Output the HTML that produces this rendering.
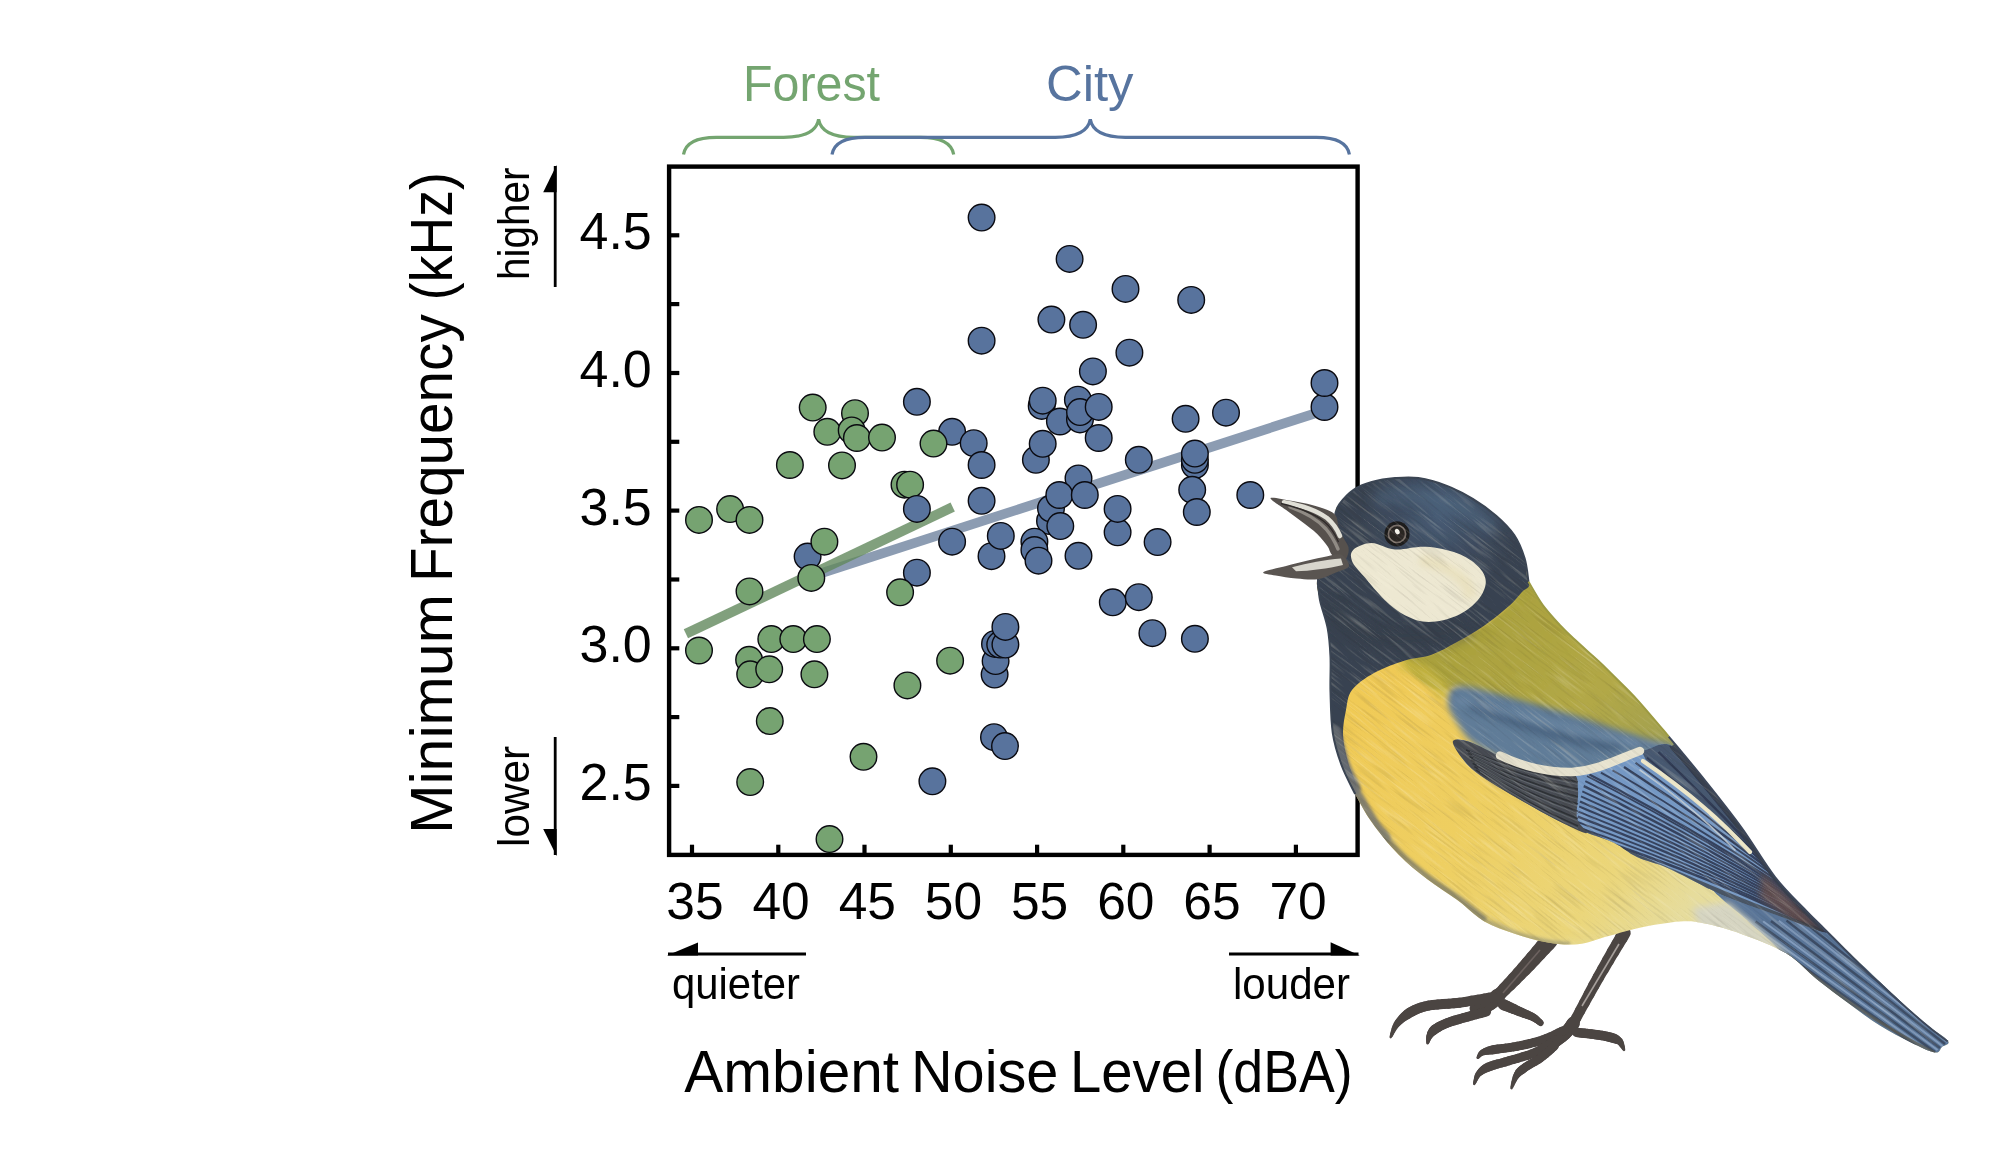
<!DOCTYPE html>
<html><head><meta charset="utf-8"><title>Chart</title>
<style>
html,body{margin:0;padding:0;background:#fff;}
body{width:2000px;height:1158px;overflow:hidden;font-family:"Liberation Sans",sans-serif;}
svg{display:block;}
</style></head>
<body>
<svg width="2000" height="1158" viewBox="0 0 2000 1158">
<rect width="2000" height="1158" fill="#fff"/>
<g id="lines">
<line x1="816" y1="574.9" x2="1323" y2="410.8" stroke="#8c9cb2" stroke-width="9.7"/>
<line x1="685.9" y1="633.8" x2="952.7" y2="507.1" stroke="#62885d" stroke-opacity="0.8" stroke-width="10"/>
</g>
<g id="dots" stroke="#0a0a10" stroke-width="1.4">
<circle cx="981.6" cy="217.6" r="13.3" fill="#58739d"/>
<circle cx="1069.6" cy="258.9" r="13.3" fill="#58739d"/>
<circle cx="1125.5" cy="288.9" r="13.3" fill="#58739d"/>
<circle cx="1191.2" cy="299.9" r="13.3" fill="#58739d"/>
<circle cx="1051.4" cy="319.6" r="13.3" fill="#58739d"/>
<circle cx="1083.1" cy="324.8" r="13.3" fill="#58739d"/>
<circle cx="981.6" cy="340.7" r="13.3" fill="#58739d"/>
<circle cx="1129.4" cy="352.7" r="13.3" fill="#58739d"/>
<circle cx="1092.9" cy="371.4" r="13.3" fill="#58739d"/>
<circle cx="1324.5" cy="407.0" r="13.3" fill="#58739d"/>
<circle cx="1324.5" cy="383.0" r="13.3" fill="#58739d"/>
<circle cx="916.9" cy="401.8" r="13.3" fill="#58739d"/>
<circle cx="812.7" cy="407.6" r="13.3" fill="#76a371"/>
<circle cx="855.0" cy="413.2" r="13.3" fill="#76a371"/>
<circle cx="827.3" cy="431.8" r="13.3" fill="#76a371"/>
<circle cx="851.7" cy="430.4" r="13.3" fill="#76a371"/>
<circle cx="856.9" cy="438.0" r="13.3" fill="#76a371"/>
<circle cx="882.0" cy="437.6" r="13.3" fill="#76a371"/>
<circle cx="789.9" cy="465.0" r="13.3" fill="#76a371"/>
<circle cx="842.0" cy="465.4" r="13.3" fill="#76a371"/>
<circle cx="699.0" cy="519.9" r="13.3" fill="#76a371"/>
<circle cx="730.1" cy="509.1" r="13.3" fill="#76a371"/>
<circle cx="749.5" cy="519.9" r="13.3" fill="#76a371"/>
<circle cx="807.6" cy="556.6" r="13.3" fill="#58739d"/>
<circle cx="824.4" cy="541.7" r="13.3" fill="#76a371"/>
<circle cx="811.3" cy="577.9" r="13.3" fill="#76a371"/>
<circle cx="749.5" cy="591.4" r="13.3" fill="#76a371"/>
<circle cx="952.1" cy="431.8" r="13.3" fill="#58739d"/>
<circle cx="933.5" cy="443.6" r="13.3" fill="#76a371"/>
<circle cx="973.7" cy="443.2" r="13.3" fill="#58739d"/>
<circle cx="981.6" cy="465.0" r="13.3" fill="#58739d"/>
<circle cx="904.5" cy="484.7" r="13.3" fill="#76a371"/>
<circle cx="910.1" cy="484.7" r="13.3" fill="#76a371"/>
<circle cx="916.9" cy="508.9" r="13.3" fill="#58739d"/>
<circle cx="981.6" cy="500.8" r="13.3" fill="#58739d"/>
<circle cx="952.1" cy="541.7" r="13.3" fill="#58739d"/>
<circle cx="991.5" cy="556.2" r="13.3" fill="#58739d"/>
<circle cx="1000.8" cy="535.9" r="13.3" fill="#58739d"/>
<circle cx="916.9" cy="572.7" r="13.3" fill="#58739d"/>
<circle cx="900.1" cy="592.3" r="13.3" fill="#76a371"/>
<circle cx="1041.7" cy="405.9" r="13.3" fill="#58739d"/>
<circle cx="1042.7" cy="400.7" r="13.3" fill="#58739d"/>
<circle cx="1077.9" cy="399.7" r="13.3" fill="#58739d"/>
<circle cx="1059.9" cy="421.5" r="13.3" fill="#58739d"/>
<circle cx="1080.0" cy="419.4" r="13.3" fill="#58739d"/>
<circle cx="1080.0" cy="412.1" r="13.3" fill="#58739d"/>
<circle cx="1098.7" cy="406.9" r="13.3" fill="#58739d"/>
<circle cx="1098.7" cy="438.0" r="13.3" fill="#58739d"/>
<circle cx="1035.9" cy="459.8" r="13.3" fill="#58739d"/>
<circle cx="1042.7" cy="443.8" r="13.3" fill="#58739d"/>
<circle cx="1078.5" cy="478.4" r="13.3" fill="#58739d"/>
<circle cx="1050.0" cy="521.0" r="13.3" fill="#58739d"/>
<circle cx="1051.0" cy="508.5" r="13.3" fill="#58739d"/>
<circle cx="1059.3" cy="495.0" r="13.3" fill="#58739d"/>
<circle cx="1084.8" cy="495.0" r="13.3" fill="#58739d"/>
<circle cx="1060.3" cy="526.1" r="13.3" fill="#58739d"/>
<circle cx="1117.6" cy="532.3" r="13.3" fill="#58739d"/>
<circle cx="1117.6" cy="508.9" r="13.3" fill="#58739d"/>
<circle cx="1034.4" cy="541.7" r="13.3" fill="#58739d"/>
<circle cx="1034.4" cy="550.0" r="13.3" fill="#58739d"/>
<circle cx="1038.5" cy="560.7" r="13.3" fill="#58739d"/>
<circle cx="1078.5" cy="555.8" r="13.3" fill="#58739d"/>
<circle cx="1112.8" cy="602.3" r="13.3" fill="#58739d"/>
<circle cx="1138.8" cy="597.2" r="13.3" fill="#58739d"/>
<circle cx="1185.6" cy="418.8" r="13.3" fill="#58739d"/>
<circle cx="1226.0" cy="412.7" r="13.3" fill="#58739d"/>
<circle cx="1138.8" cy="459.8" r="13.3" fill="#58739d"/>
<circle cx="1194.9" cy="465.0" r="13.3" fill="#58739d"/>
<circle cx="1194.9" cy="459.8" r="13.3" fill="#58739d"/>
<circle cx="1194.9" cy="453.6" r="13.3" fill="#58739d"/>
<circle cx="1192.2" cy="489.8" r="13.3" fill="#58739d"/>
<circle cx="1196.8" cy="512.0" r="13.3" fill="#58739d"/>
<circle cx="1250.3" cy="495.0" r="13.3" fill="#58739d"/>
<circle cx="1157.6" cy="542.1" r="13.3" fill="#58739d"/>
<circle cx="1152.4" cy="633.2" r="13.3" fill="#58739d"/>
<circle cx="1194.9" cy="638.8" r="13.3" fill="#58739d"/>
<circle cx="994.6" cy="674.6" r="13.3" fill="#58739d"/>
<circle cx="995.6" cy="661.1" r="13.3" fill="#58739d"/>
<circle cx="995.0" cy="643.9" r="13.3" fill="#58739d"/>
<circle cx="1000.2" cy="644.6" r="13.3" fill="#58739d"/>
<circle cx="1005.4" cy="644.6" r="13.3" fill="#58739d"/>
<circle cx="1005.4" cy="626.9" r="13.3" fill="#58739d"/>
<circle cx="994.0" cy="737.2" r="13.3" fill="#58739d"/>
<circle cx="1005.0" cy="746.1" r="13.3" fill="#58739d"/>
<circle cx="932.4" cy="781.3" r="13.3" fill="#58739d"/>
<circle cx="699.0" cy="650.5" r="13.3" fill="#76a371"/>
<circle cx="771.3" cy="639.1" r="13.3" fill="#76a371"/>
<circle cx="793.3" cy="639.1" r="13.3" fill="#76a371"/>
<circle cx="816.9" cy="639.1" r="13.3" fill="#76a371"/>
<circle cx="749.1" cy="659.8" r="13.3" fill="#76a371"/>
<circle cx="750.2" cy="674.3" r="13.3" fill="#76a371"/>
<circle cx="769.2" cy="669.3" r="13.3" fill="#76a371"/>
<circle cx="814.4" cy="674.3" r="13.3" fill="#76a371"/>
<circle cx="950.1" cy="660.7" r="13.3" fill="#76a371"/>
<circle cx="907.4" cy="685.4" r="13.3" fill="#76a371"/>
<circle cx="769.8" cy="721.1" r="13.3" fill="#76a371"/>
<circle cx="863.5" cy="756.8" r="13.3" fill="#76a371"/>
<circle cx="750.2" cy="782.1" r="13.3" fill="#76a371"/>
<circle cx="829.5" cy="839.1" r="13.3" fill="#76a371"/>
</g>
<g id="axes" stroke="#000" fill="none">
<rect x="669.1" y="166.6" width="688.5" height="688.3" stroke-width="4.4"/>
<line x1="669.1" y1="235.3" x2="679.3" y2="235.3" stroke-width="4.2"/>
<line x1="669.1" y1="304.1" x2="679.3" y2="304.1" stroke-width="4.2"/>
<line x1="669.1" y1="373.0" x2="679.3" y2="373.0" stroke-width="4.2"/>
<line x1="669.1" y1="441.8" x2="679.3" y2="441.8" stroke-width="4.2"/>
<line x1="669.1" y1="510.6" x2="679.3" y2="510.6" stroke-width="4.2"/>
<line x1="669.1" y1="579.5" x2="679.3" y2="579.5" stroke-width="4.2"/>
<line x1="669.1" y1="648.3" x2="679.3" y2="648.3" stroke-width="4.2"/>
<line x1="669.1" y1="717.1" x2="679.3" y2="717.1" stroke-width="4.2"/>
<line x1="669.1" y1="785.9" x2="679.3" y2="785.9" stroke-width="4.2"/>
<line x1="692.0" y1="854.9" x2="692.0" y2="844.7" stroke-width="4.2"/>
<line x1="778.3" y1="854.9" x2="778.3" y2="844.7" stroke-width="4.2"/>
<line x1="864.5" y1="854.9" x2="864.5" y2="844.7" stroke-width="4.2"/>
<line x1="950.8" y1="854.9" x2="950.8" y2="844.7" stroke-width="4.2"/>
<line x1="1037.1" y1="854.9" x2="1037.1" y2="844.7" stroke-width="4.2"/>
<line x1="1123.3" y1="854.9" x2="1123.3" y2="844.7" stroke-width="4.2"/>
<line x1="1209.6" y1="854.9" x2="1209.6" y2="844.7" stroke-width="4.2"/>
<line x1="1295.9" y1="854.9" x2="1295.9" y2="844.7" stroke-width="4.2"/>
</g>
<g id="labels" font-family="'Liberation Sans', sans-serif" fill="#000" opacity="0.999">
<text x="651.8" y="249.3" font-size="52" text-anchor="end">4.5</text>
<text x="651.8" y="387.0" font-size="52" text-anchor="end">4.0</text>
<text x="651.8" y="524.6" font-size="52" text-anchor="end">3.5</text>
<text x="651.8" y="662.3" font-size="52" text-anchor="end">3.0</text>
<text x="651.8" y="799.9" font-size="52" text-anchor="end">2.5</text>
<text x="695.0" y="918.6" font-size="51.5" text-anchor="middle">35</text>
<text x="781.1" y="918.6" font-size="51.5" text-anchor="middle">40</text>
<text x="867.3" y="918.6" font-size="51.5" text-anchor="middle">45</text>
<text x="953.5" y="918.6" font-size="51.5" text-anchor="middle">50</text>
<text x="1039.6" y="918.6" font-size="51.5" text-anchor="middle">55</text>
<text x="1125.8" y="918.6" font-size="51.5" text-anchor="middle">60</text>
<text x="1211.9" y="918.6" font-size="51.5" text-anchor="middle">65</text>
<text x="1298.1" y="918.6" font-size="51.5" text-anchor="middle">70</text>
<text x="684.31" y="1092" font-size="59" textLength="214.73" lengthAdjust="spacingAndGlyphs">Ambient</text>
<text x="910.95" y="1092" font-size="59" textLength="147.44" lengthAdjust="spacingAndGlyphs">Noise</text>
<text x="1070.02" y="1092" font-size="59" textLength="134.38" lengthAdjust="spacingAndGlyphs">Level</text>
<text x="1215.39" y="1092" font-size="59" textLength="137.30" lengthAdjust="spacingAndGlyphs">(dBA)</text>
<text transform="translate(452,833.85) rotate(-90)" font-size="59" textLength="239.83" lengthAdjust="spacingAndGlyphs">Minimum</text>
<text transform="translate(452,582.02) rotate(-90)" font-size="59" textLength="267.81" lengthAdjust="spacingAndGlyphs">Frequency</text>
<text transform="translate(452,300.14) rotate(-90)" font-size="59" textLength="127.97" lengthAdjust="spacingAndGlyphs">(kHz)</text>
<text x="672" y="999" font-size="44" textLength="128" lengthAdjust="spacingAndGlyphs">quieter</text>
<text x="1233" y="999" font-size="44" textLength="117" lengthAdjust="spacingAndGlyphs">louder</text>
<text transform="translate(529,280) rotate(-90)" font-size="44" textLength="112.5" lengthAdjust="spacingAndGlyphs">higher</text>
<text transform="translate(529,847) rotate(-90)" font-size="44" textLength="101" lengthAdjust="spacingAndGlyphs">lower</text>
</g>
<g font-family="'Liberation Sans', sans-serif" opacity="0.999">
<text x="743" y="101" font-size="50" fill="#74a570" textLength="137" lengthAdjust="spacingAndGlyphs">Forest</text>
<text x="1046" y="101" font-size="50" fill="#57749f" textLength="87.5" lengthAdjust="spacingAndGlyphs">City</text>
</g>
<g id="arrows" stroke="#000" stroke-width="2.8" fill="#000">
<line x1="555.2" y1="166" x2="555.2" y2="287"/>
<path d="M556.6,165 L556.6,192.2 L543.2,192.2Z" stroke="none"/>
<line x1="555.2" y1="737" x2="555.2" y2="855"/>
<path d="M556.6,856 L556.6,829 L543.2,829Z" stroke="none"/>
<line x1="668" y1="954" x2="806" y2="954"/>
<path d="M667,955.4 L698,955.4 L698,942.4Z" stroke="none"/>
<line x1="1229" y1="954" x2="1358.5" y2="954"/>
<path d="M1359.8,955.4 L1330.6,955.4 L1330.6,942.2Z" stroke="none"/>
</g>
<g id="braces" fill="none" stroke-width="3.2" stroke-linecap="butt">
<path d="M683.5,154.6C685.5,141.3 698.4,137.3 716.5,137.3L783.6,137.3C804.6,137.3 816.6,131.3 818.6,119.3C820.6,131.3 832.6,137.3 853.6,137.3L920.7,137.3C938.9,137.3 951.7,141.3 953.7,154.6" stroke="#74a570"/>
<path d="M832.0,154.6C834.0,141.3 846.9,137.3 865.0,137.3L1055.3,137.3C1076.3,137.3 1088.3,131.3 1090.3,119.3C1092.3,131.3 1104.2,137.3 1125.3,137.3L1316.4,137.3C1334.6,137.3 1347.4,141.3 1349.4,154.6" stroke="#57749f"/>
</g>
<defs>
<clipPath id="bsil"><path d="M1335.5,513.1C1335.7,507.1 1336.4,507.9 1339.4,504.0C1342.4,500.1 1348.2,493.5 1353.6,489.8C1359.0,486.1 1364.9,483.9 1371.8,482.0C1378.7,480.1 1387.3,478.8 1395.1,478.1C1402.9,477.5 1409.8,476.8 1418.4,478.1C1427.0,479.4 1437.8,482.4 1446.9,485.9C1456.0,489.4 1464.6,493.9 1472.8,498.9C1481.0,503.9 1489.2,509.7 1496.1,515.7C1503.0,521.7 1509.5,528.0 1514.2,535.1C1519.0,542.2 1522.2,550.6 1524.6,558.4C1527.0,566.2 1525.5,574.0 1528.5,581.8C1531.5,589.6 1537.5,597.9 1542.7,605.1C1548.0,612.3 1554.8,619.6 1560.0,625.2C1565.2,630.8 1567.3,632.8 1573.8,638.8C1580.3,644.8 1592.4,655.5 1598.9,661.5C1605.4,667.5 1606.2,668.5 1612.7,675.0C1619.2,681.5 1628.4,690.0 1637.7,700.3C1647.0,710.6 1657.6,723.2 1668.8,736.6C1680.0,750.0 1693.0,765.5 1705.1,780.6C1717.2,795.7 1729.6,811.2 1741.3,827.3C1753.0,843.4 1764.2,863.1 1775.0,877.0C1785.8,890.9 1798.3,902.5 1806.1,910.7C1813.9,918.9 1812.0,916.8 1821.7,926.2C1831.4,935.6 1852.1,955.4 1864.4,967.1C1876.7,978.8 1885.1,987.0 1895.5,996.6C1905.9,1006.2 1917.8,1017.2 1926.6,1024.6C1935.3,1032.0 1945.4,1037.3 1948.0,1041.0C1950.6,1044.7 1944.2,1045.1 1942.0,1047.0C1939.8,1048.9 1940.2,1053.2 1935.0,1052.5C1929.8,1051.8 1920.2,1047.0 1911.0,1042.5C1901.8,1038.0 1890.3,1032.0 1879.9,1025.5C1869.5,1019.0 1859.2,1011.1 1848.8,1003.5C1838.4,995.9 1828.1,988.3 1817.7,980.0C1807.3,971.7 1799.3,961.2 1786.6,953.5C1773.9,945.8 1754.9,939.0 1741.3,934.0C1727.7,929.0 1715.2,925.7 1705.0,923.6C1694.8,921.5 1690.9,920.8 1680.0,921.5C1669.1,922.2 1651.7,925.3 1639.8,927.7C1627.9,930.1 1619.1,933.2 1608.7,936.0C1598.3,938.8 1588.0,943.2 1577.6,944.2C1567.2,945.2 1556.9,943.9 1546.5,942.2C1536.1,940.5 1525.8,937.4 1515.4,933.9C1505.1,930.4 1494.0,927.1 1484.4,921.5C1474.8,915.9 1467.6,907.6 1458.0,900.5C1448.4,893.4 1436.9,886.7 1427.0,879.0C1417.1,871.3 1407.7,863.9 1398.5,854.5C1389.3,845.1 1379.2,832.6 1372.0,822.5C1364.8,812.4 1360.3,803.6 1355.2,794.0C1350.1,784.4 1345.2,775.2 1341.5,765.0C1337.8,754.8 1334.6,745.2 1332.8,733.0C1331.0,720.8 1330.9,704.5 1330.5,691.8C1330.1,679.1 1331.0,667.6 1330.5,657.0C1330.0,646.4 1329.5,637.9 1327.7,628.4C1326.0,618.9 1321.7,608.2 1320.0,600.0C1318.3,591.8 1315.7,585.7 1317.4,579.0C1319.1,572.3 1326.6,566.5 1330.0,560.0C1333.4,553.5 1337.1,547.8 1338.0,540.0C1338.9,532.2 1335.3,519.1 1335.5,513.1Z"/></clipPath>
<linearGradient id="gy" gradientUnits="userSpaceOnUse" x1="1350" y1="700" x2="1660" y2="940"><stop offset="0" stop-color="#f0ca56"/><stop offset="0.45" stop-color="#eecf62"/><stop offset="0.8" stop-color="#ebd67a"/><stop offset="1" stop-color="#e6dc9c"/></linearGradient>
<linearGradient id="gol" gradientUnits="userSpaceOnUse" x1="1500" y1="600" x2="1660" y2="760"><stop offset="0" stop-color="#aaa13d"/><stop offset="0.6" stop-color="#b2a846"/><stop offset="1" stop-color="#a09f52"/></linearGradient>
<radialGradient id="ghd" gradientUnits="userSpaceOnUse" cx="1440" cy="515" r="80"><stop offset="0" stop-color="#485d76"/><stop offset="0.6" stop-color="#3d4a5d"/><stop offset="1" stop-color="#394351"/></radialGradient>
<linearGradient id="gwing" gradientUnits="userSpaceOnUse" x1="1560" y1="880" x2="1640" y2="740"><stop offset="0" stop-color="#3f4a5c"/><stop offset="0.35" stop-color="#6a8bb3"/><stop offset="1" stop-color="#5c7797"/></linearGradient>
<filter id="soft" filterUnits="userSpaceOnUse" x="1200" y="400" width="800" height="758"><feGaussianBlur stdDeviation="0.7"/></filter>
<filter id="soft15" filterUnits="userSpaceOnUse" x="1200" y="400" width="800" height="758"><feGaussianBlur stdDeviation="1.8"/></filter>
<filter id="soft2" filterUnits="userSpaceOnUse" x="1200" y="400" width="800" height="758"><feGaussianBlur stdDeviation="3"/></filter>
<filter id="soft3" filterUnits="userSpaceOnUse" x="1200" y="400" width="800" height="758"><feGaussianBlur stdDeviation="6"/></filter>
<filter id="texw" filterUnits="userSpaceOnUse" x="900" y="100" width="1400" height="1400" color-interpolation-filters="sRGB"><feTurbulence type="fractalNoise" baseFrequency="0.02 0.42" numOctaves="2" seed="4"/><feColorMatrix type="matrix" values="0 0 0 0 1  0 0 0 0 0.98  0 0 0 0 0.9  2.4 0 0 0 -1.25"/></filter>
<filter id="texd" filterUnits="userSpaceOnUse" x="900" y="100" width="1400" height="1400" color-interpolation-filters="sRGB"><feTurbulence type="fractalNoise" baseFrequency="0.022 0.45" numOctaves="2" seed="11"/><feColorMatrix type="matrix" values="0 0 0 0 0.12  0 0 0 0 0.1  0 0 0 0 0.08  0 2.4 0 0 -1.25"/></filter>
</defs>
<g id="bird" filter="url(#soft)">
<g>
<path d="M1549.6,940.1 L1546.8,943.3" stroke="#4c4543" stroke-width="17.0" stroke-linecap="round" fill="none"/>
<path d="M1546.8,943.3 L1542.9,947.7" stroke="#4c4543" stroke-width="16.6" stroke-linecap="round" fill="none"/>
<path d="M1542.9,947.7 L1538.3,952.9" stroke="#4c4543" stroke-width="16.2" stroke-linecap="round" fill="none"/>
<path d="M1538.3,952.9 L1533.3,958.5" stroke="#4c4543" stroke-width="15.8" stroke-linecap="round" fill="none"/>
<path d="M1533.3,958.5 L1528.3,964.1" stroke="#4c4543" stroke-width="15.4" stroke-linecap="round" fill="none"/>
<path d="M1528.3,964.1 L1523.7,969.1" stroke="#4c4543" stroke-width="15.0" stroke-linecap="round" fill="none"/>
<path d="M1523.7,969.1 L1519.1,974.0" stroke="#4c4543" stroke-width="14.5" stroke-linecap="round" fill="none"/>
<path d="M1519.1,974.0 L1514.1,979.3" stroke="#4c4543" stroke-width="14.1" stroke-linecap="round" fill="none"/>
<path d="M1514.1,979.3 L1509.2,984.4" stroke="#4c4543" stroke-width="13.7" stroke-linecap="round" fill="none"/>
<path d="M1509.2,984.4 L1504.5,989.2" stroke="#4c4543" stroke-width="13.3" stroke-linecap="round" fill="none"/>
<path d="M1504.5,989.2 L1500.6,993.2" stroke="#4c4543" stroke-width="12.9" stroke-linecap="round" fill="none"/>
<path d="M1500.6,993.2 L1497.8,996.1" stroke="#4c4543" stroke-width="12.5" stroke-linecap="round" fill="none"/>
<path d="M1497.8,996.1 L1496.8,997.0" stroke="#4c4543" stroke-width="15.0" stroke-linecap="round" fill="none"/>
<path d="M1496.8,997.0 L1495.5,998.4" stroke="#4c4543" stroke-width="14.8" stroke-linecap="round" fill="none"/>
<path d="M1495.5,998.4 L1493.9,999.9" stroke="#4c4543" stroke-width="14.6" stroke-linecap="round" fill="none"/>
<path d="M1493.9,999.9 L1492.2,1001.6" stroke="#4c4543" stroke-width="14.5" stroke-linecap="round" fill="none"/>
<path d="M1492.2,1001.6 L1490.3,1003.1" stroke="#4c4543" stroke-width="14.3" stroke-linecap="round" fill="none"/>
<path d="M1490.3,1003.1 L1488.5,1004.4" stroke="#4c4543" stroke-width="14.1" stroke-linecap="round" fill="none"/>
<path d="M1488.5,1004.4 L1486.5,1005.3" stroke="#4c4543" stroke-width="13.9" stroke-linecap="round" fill="none"/>
<path d="M1486.5,1005.3 L1484.1,1006.2" stroke="#4c4543" stroke-width="13.7" stroke-linecap="round" fill="none"/>
<path d="M1484.1,1006.2 L1481.7,1006.9" stroke="#4c4543" stroke-width="13.5" stroke-linecap="round" fill="none"/>
<path d="M1481.7,1006.9 L1479.4,1007.6" stroke="#4c4543" stroke-width="13.4" stroke-linecap="round" fill="none"/>
<path d="M1479.4,1007.6 L1477.5,1008.1" stroke="#4c4543" stroke-width="13.2" stroke-linecap="round" fill="none"/>
<path d="M1477.5,1008.1 L1476.1,1008.5" stroke="#4c4543" stroke-width="13.0" stroke-linecap="round" fill="none"/>
<path d="M1492.6,997.1 L1489.0,997.7" stroke="#4c4543" stroke-width="10.0" stroke-linecap="round" fill="none"/>
<path d="M1489.0,997.7 L1484.0,998.6" stroke="#4c4543" stroke-width="10.0" stroke-linecap="round" fill="none"/>
<path d="M1484.0,998.6 L1478.0,999.7" stroke="#4c4543" stroke-width="10.0" stroke-linecap="round" fill="none"/>
<path d="M1478.0,999.7 L1471.6,1000.8" stroke="#4c4543" stroke-width="10.0" stroke-linecap="round" fill="none"/>
<path d="M1471.6,1000.8 L1465.3,1001.9" stroke="#4c4543" stroke-width="10.0" stroke-linecap="round" fill="none"/>
<path d="M1465.3,1001.9 L1459.5,1002.7" stroke="#4c4543" stroke-width="10.0" stroke-linecap="round" fill="none"/>
<path d="M1459.5,1002.7 L1454.0,1003.3" stroke="#4c4543" stroke-width="10.0" stroke-linecap="round" fill="none"/>
<path d="M1454.0,1003.3 L1448.5,1003.7" stroke="#4c4543" stroke-width="10.0" stroke-linecap="round" fill="none"/>
<path d="M1448.5,1003.7 L1443.0,1004.1" stroke="#4c4543" stroke-width="10.0" stroke-linecap="round" fill="none"/>
<path d="M1443.0,1004.1 L1437.8,1004.4" stroke="#4c4543" stroke-width="10.0" stroke-linecap="round" fill="none"/>
<path d="M1437.8,1004.4 L1432.8,1004.9" stroke="#4c4543" stroke-width="10.0" stroke-linecap="round" fill="none"/>
<path d="M1432.8,1004.9 L1428.4,1005.6" stroke="#4c4543" stroke-width="10.0" stroke-linecap="round" fill="none"/>
<path d="M1428.4,1005.6 L1424.5,1006.5" stroke="#4c4543" stroke-width="10.0" stroke-linecap="round" fill="none"/>
<path d="M1424.5,1006.5 L1421.0,1007.5" stroke="#4c4543" stroke-width="10.0" stroke-linecap="round" fill="none"/>
<path d="M1421.0,1007.5 L1417.9,1008.6" stroke="#4c4543" stroke-width="10.0" stroke-linecap="round" fill="none"/>
<path d="M1417.9,1008.6 L1415.1,1009.8" stroke="#4c4543" stroke-width="10.0" stroke-linecap="round" fill="none"/>
<path d="M1415.1,1009.8 L1412.4,1011.2" stroke="#4c4543" stroke-width="10.0" stroke-linecap="round" fill="none"/>
<path d="M1412.4,1011.2 L1409.7,1012.6" stroke="#4c4543" stroke-width="10.0" stroke-linecap="round" fill="none"/>
<path d="M1409.7,1012.6 L1407.2,1014.3" stroke="#4c4543" stroke-width="10.0" stroke-linecap="round" fill="none"/>
<path d="M1407.2,1014.3 L1404.8,1016.1" stroke="#4c4543" stroke-width="9.3" stroke-linecap="round" fill="none"/>
<path d="M1404.8,1016.1 L1402.5,1018.0" stroke="#4c4543" stroke-width="8.6" stroke-linecap="round" fill="none"/>
<path d="M1402.5,1018.0 L1400.5,1020.0" stroke="#4c4543" stroke-width="7.9" stroke-linecap="round" fill="none"/>
<path d="M1400.5,1020.0 L1398.6,1022.0" stroke="#4c4543" stroke-width="7.3" stroke-linecap="round" fill="none"/>
<path d="M1398.6,1022.0 L1396.9,1024.0" stroke="#4c4543" stroke-width="6.6" stroke-linecap="round" fill="none"/>
<path d="M1396.9,1024.0 L1395.4,1026.3" stroke="#4c4543" stroke-width="5.9" stroke-linecap="round" fill="none"/>
<path d="M1395.4,1026.3 L1394.1,1028.8" stroke="#4c4543" stroke-width="5.2" stroke-linecap="round" fill="none"/>
<path d="M1394.1,1028.8 L1393.0,1031.3" stroke="#4c4543" stroke-width="4.5" stroke-linecap="round" fill="none"/>
<path d="M1393.0,1031.3 L1392.0,1033.7" stroke="#4c4543" stroke-width="3.9" stroke-linecap="round" fill="none"/>
<path d="M1392.0,1033.7 L1391.3,1035.7" stroke="#4c4543" stroke-width="3.2" stroke-linecap="round" fill="none"/>
<path d="M1391.3,1035.7 L1390.7,1037.1" stroke="#4c4543" stroke-width="2.5" stroke-linecap="round" fill="none"/>
<path d="M1486.4,1011.6 L1483.9,1012.3" stroke="#4c4543" stroke-width="9.5" stroke-linecap="round" fill="none"/>
<path d="M1483.9,1012.3 L1480.3,1013.3" stroke="#4c4543" stroke-width="9.5" stroke-linecap="round" fill="none"/>
<path d="M1480.3,1013.3 L1476.1,1014.4" stroke="#4c4543" stroke-width="9.5" stroke-linecap="round" fill="none"/>
<path d="M1476.1,1014.4 L1471.6,1015.6" stroke="#4c4543" stroke-width="9.5" stroke-linecap="round" fill="none"/>
<path d="M1471.6,1015.6 L1467.3,1016.8" stroke="#4c4543" stroke-width="9.5" stroke-linecap="round" fill="none"/>
<path d="M1467.3,1016.8 L1463.6,1017.8" stroke="#4c4543" stroke-width="9.5" stroke-linecap="round" fill="none"/>
<path d="M1463.6,1017.8 L1460.5,1018.7" stroke="#4c4543" stroke-width="9.5" stroke-linecap="round" fill="none"/>
<path d="M1460.5,1018.7 L1457.5,1019.6" stroke="#4c4543" stroke-width="9.5" stroke-linecap="round" fill="none"/>
<path d="M1457.5,1019.6 L1454.7,1020.4" stroke="#4c4543" stroke-width="9.5" stroke-linecap="round" fill="none"/>
<path d="M1454.7,1020.4 L1452.0,1021.2" stroke="#4c4543" stroke-width="9.5" stroke-linecap="round" fill="none"/>
<path d="M1452.0,1021.2 L1449.5,1022.1" stroke="#4c4543" stroke-width="9.5" stroke-linecap="round" fill="none"/>
<path d="M1449.5,1022.1 L1447.0,1023.0" stroke="#4c4543" stroke-width="9.5" stroke-linecap="round" fill="none"/>
<path d="M1447.0,1023.0 L1444.7,1024.0" stroke="#4c4543" stroke-width="9.5" stroke-linecap="round" fill="none"/>
<path d="M1444.7,1024.0 L1442.5,1025.0" stroke="#4c4543" stroke-width="9.5" stroke-linecap="round" fill="none"/>
<path d="M1442.5,1025.0 L1440.3,1026.0" stroke="#4c4543" stroke-width="9.5" stroke-linecap="round" fill="none"/>
<path d="M1440.3,1026.0 L1438.4,1027.1" stroke="#4c4543" stroke-width="9.5" stroke-linecap="round" fill="none"/>
<path d="M1438.4,1027.1 L1436.6,1028.2" stroke="#4c4543" stroke-width="9.5" stroke-linecap="round" fill="none"/>
<path d="M1436.6,1028.2 L1435.0,1029.2" stroke="#4c4543" stroke-width="9.5" stroke-linecap="round" fill="none"/>
<path d="M1435.0,1029.2 L1433.7,1030.3" stroke="#4c4543" stroke-width="9.5" stroke-linecap="round" fill="none"/>
<path d="M1433.7,1030.3 L1432.6,1031.4" stroke="#4c4543" stroke-width="8.9" stroke-linecap="round" fill="none"/>
<path d="M1432.6,1031.4 L1431.7,1032.5" stroke="#4c4543" stroke-width="8.2" stroke-linecap="round" fill="none"/>
<path d="M1431.7,1032.5 L1430.9,1033.6" stroke="#4c4543" stroke-width="7.6" stroke-linecap="round" fill="none"/>
<path d="M1430.9,1033.6 L1430.3,1034.7" stroke="#4c4543" stroke-width="6.9" stroke-linecap="round" fill="none"/>
<path d="M1430.3,1034.7 L1429.6,1035.9" stroke="#4c4543" stroke-width="6.3" stroke-linecap="round" fill="none"/>
<path d="M1429.6,1035.9 L1429.1,1037.1" stroke="#4c4543" stroke-width="5.7" stroke-linecap="round" fill="none"/>
<path d="M1429.1,1037.1 L1428.6,1038.6" stroke="#4c4543" stroke-width="5.0" stroke-linecap="round" fill="none"/>
<path d="M1428.6,1038.6 L1428.3,1040.0" stroke="#4c4543" stroke-width="4.4" stroke-linecap="round" fill="none"/>
<path d="M1428.3,1040.0 L1428.0,1041.4" stroke="#4c4543" stroke-width="3.8" stroke-linecap="round" fill="none"/>
<path d="M1428.0,1041.4 L1427.8,1042.5" stroke="#4c4543" stroke-width="3.1" stroke-linecap="round" fill="none"/>
<path d="M1427.8,1042.5 L1427.6,1043.3" stroke="#4c4543" stroke-width="2.5" stroke-linecap="round" fill="none"/>
<path d="M1503.0,1004.4 L1504.8,1005.2" stroke="#4c4543" stroke-width="11.0" stroke-linecap="round" fill="none"/>
<path d="M1504.8,1005.2 L1507.4,1006.3" stroke="#4c4543" stroke-width="10.7" stroke-linecap="round" fill="none"/>
<path d="M1507.4,1006.3 L1510.5,1007.6" stroke="#4c4543" stroke-width="10.4" stroke-linecap="round" fill="none"/>
<path d="M1510.5,1007.6 L1513.7,1009.0" stroke="#4c4543" stroke-width="10.1" stroke-linecap="round" fill="none"/>
<path d="M1513.7,1009.0 L1516.8,1010.4" stroke="#4c4543" stroke-width="9.8" stroke-linecap="round" fill="none"/>
<path d="M1516.8,1010.4 L1519.6,1011.6" stroke="#4c4543" stroke-width="9.5" stroke-linecap="round" fill="none"/>
<path d="M1519.6,1011.6 L1522.1,1012.6" stroke="#4c4543" stroke-width="9.2" stroke-linecap="round" fill="none"/>
<path d="M1522.1,1012.6 L1524.5,1013.6" stroke="#4c4543" stroke-width="8.9" stroke-linecap="round" fill="none"/>
<path d="M1524.5,1013.6 L1526.9,1014.5" stroke="#4c4543" stroke-width="8.6" stroke-linecap="round" fill="none"/>
<path d="M1526.9,1014.5 L1529.1,1015.4" stroke="#4c4543" stroke-width="8.4" stroke-linecap="round" fill="none"/>
<path d="M1529.1,1015.4 L1531.2,1016.3" stroke="#4c4543" stroke-width="8.1" stroke-linecap="round" fill="none"/>
<path d="M1531.2,1016.3 L1533.1,1017.2" stroke="#4c4543" stroke-width="7.8" stroke-linecap="round" fill="none"/>
<path d="M1533.1,1017.2 L1534.8,1018.2" stroke="#4c4543" stroke-width="7.5" stroke-linecap="round" fill="none"/>
<path d="M1534.8,1018.2 L1536.3,1019.3" stroke="#4c4543" stroke-width="7.2" stroke-linecap="round" fill="none"/>
<path d="M1536.3,1019.3 L1537.7,1020.5" stroke="#4c4543" stroke-width="6.9" stroke-linecap="round" fill="none"/>
<path d="M1537.7,1020.5 L1539.0,1021.5" stroke="#4c4543" stroke-width="6.6" stroke-linecap="round" fill="none"/>
<path d="M1539.0,1021.5 L1540.0,1022.4" stroke="#4c4543" stroke-width="6.3" stroke-linecap="round" fill="none"/>
<path d="M1540.0,1022.4 L1540.7,1023.0" stroke="#4c4543" stroke-width="6.0" stroke-linecap="round" fill="none"/>
<path d="M1624.2,932.8 L1621.4,937.7" stroke="#4c4543" stroke-width="13.0" stroke-linecap="round" fill="none"/>
<path d="M1621.4,937.7 L1617.5,944.4" stroke="#4c4543" stroke-width="12.7" stroke-linecap="round" fill="none"/>
<path d="M1617.5,944.4 L1612.8,952.3" stroke="#4c4543" stroke-width="12.5" stroke-linecap="round" fill="none"/>
<path d="M1612.8,952.3 L1607.9,960.8" stroke="#4c4543" stroke-width="12.2" stroke-linecap="round" fill="none"/>
<path d="M1607.9,960.8 L1602.9,969.4" stroke="#4c4543" stroke-width="11.9" stroke-linecap="round" fill="none"/>
<path d="M1602.9,969.4 L1598.3,977.4" stroke="#4c4543" stroke-width="11.6" stroke-linecap="round" fill="none"/>
<path d="M1598.3,977.4 L1593.8,985.5" stroke="#4c4543" stroke-width="11.4" stroke-linecap="round" fill="none"/>
<path d="M1593.8,985.5 L1589.1,994.2" stroke="#4c4543" stroke-width="11.1" stroke-linecap="round" fill="none"/>
<path d="M1589.1,994.2 L1584.3,1003.0" stroke="#4c4543" stroke-width="10.8" stroke-linecap="round" fill="none"/>
<path d="M1584.3,1003.0 L1579.9,1011.1" stroke="#4c4543" stroke-width="10.5" stroke-linecap="round" fill="none"/>
<path d="M1579.9,1011.1 L1576.2,1018.0" stroke="#4c4543" stroke-width="10.3" stroke-linecap="round" fill="none"/>
<path d="M1576.2,1018.0 L1573.5,1023.0" stroke="#4c4543" stroke-width="10.0" stroke-linecap="round" fill="none"/>
<path d="M1573.5,1023.0 L1572.6,1024.2" stroke="#4c4543" stroke-width="13.0" stroke-linecap="round" fill="none"/>
<path d="M1572.6,1024.2 L1571.4,1025.8" stroke="#4c4543" stroke-width="12.9" stroke-linecap="round" fill="none"/>
<path d="M1571.4,1025.8 L1570.0,1027.7" stroke="#4c4543" stroke-width="12.8" stroke-linecap="round" fill="none"/>
<path d="M1570.0,1027.7 L1568.4,1029.7" stroke="#4c4543" stroke-width="12.7" stroke-linecap="round" fill="none"/>
<path d="M1568.4,1029.7 L1566.8,1031.6" stroke="#4c4543" stroke-width="12.6" stroke-linecap="round" fill="none"/>
<path d="M1566.8,1031.6 L1565.2,1033.4" stroke="#4c4543" stroke-width="12.5" stroke-linecap="round" fill="none"/>
<path d="M1565.2,1033.4 L1563.5,1035.0" stroke="#4c4543" stroke-width="12.5" stroke-linecap="round" fill="none"/>
<path d="M1563.5,1035.0 L1561.5,1036.6" stroke="#4c4543" stroke-width="12.4" stroke-linecap="round" fill="none"/>
<path d="M1561.5,1036.6 L1559.5,1038.2" stroke="#4c4543" stroke-width="12.3" stroke-linecap="round" fill="none"/>
<path d="M1559.5,1038.2 L1557.6,1039.6" stroke="#4c4543" stroke-width="12.2" stroke-linecap="round" fill="none"/>
<path d="M1557.6,1039.6 L1556.0,1040.8" stroke="#4c4543" stroke-width="12.1" stroke-linecap="round" fill="none"/>
<path d="M1556.0,1040.8 L1554.8,1041.7" stroke="#4c4543" stroke-width="12.0" stroke-linecap="round" fill="none"/>
<path d="M1564.1,1030.3 L1561.8,1031.4" stroke="#4c4543" stroke-width="9.0" stroke-linecap="round" fill="none"/>
<path d="M1561.8,1031.4 L1558.6,1032.9" stroke="#4c4543" stroke-width="9.0" stroke-linecap="round" fill="none"/>
<path d="M1558.6,1032.9 L1554.8,1034.7" stroke="#4c4543" stroke-width="9.0" stroke-linecap="round" fill="none"/>
<path d="M1554.8,1034.7 L1550.7,1036.7" stroke="#4c4543" stroke-width="9.0" stroke-linecap="round" fill="none"/>
<path d="M1550.7,1036.7 L1546.4,1038.5" stroke="#4c4543" stroke-width="9.0" stroke-linecap="round" fill="none"/>
<path d="M1546.4,1038.5 L1542.4,1040.0" stroke="#4c4543" stroke-width="9.0" stroke-linecap="round" fill="none"/>
<path d="M1542.4,1040.0 L1538.4,1041.3" stroke="#4c4543" stroke-width="9.0" stroke-linecap="round" fill="none"/>
<path d="M1538.4,1041.3 L1534.2,1042.4" stroke="#4c4543" stroke-width="9.0" stroke-linecap="round" fill="none"/>
<path d="M1534.2,1042.4 L1530.0,1043.5" stroke="#4c4543" stroke-width="9.0" stroke-linecap="round" fill="none"/>
<path d="M1530.0,1043.5 L1525.8,1044.5" stroke="#4c4543" stroke-width="9.0" stroke-linecap="round" fill="none"/>
<path d="M1525.8,1044.5 L1521.6,1045.4" stroke="#4c4543" stroke-width="9.0" stroke-linecap="round" fill="none"/>
<path d="M1521.6,1045.4 L1517.5,1046.2" stroke="#4c4543" stroke-width="9.0" stroke-linecap="round" fill="none"/>
<path d="M1517.5,1046.2 L1513.5,1046.9" stroke="#4c4543" stroke-width="9.0" stroke-linecap="round" fill="none"/>
<path d="M1513.5,1046.9 L1509.4,1047.6" stroke="#4c4543" stroke-width="9.0" stroke-linecap="round" fill="none"/>
<path d="M1509.4,1047.6 L1505.3,1048.1" stroke="#4c4543" stroke-width="9.0" stroke-linecap="round" fill="none"/>
<path d="M1505.3,1048.1 L1501.4,1048.6" stroke="#4c4543" stroke-width="9.0" stroke-linecap="round" fill="none"/>
<path d="M1501.4,1048.6 L1497.9,1049.0" stroke="#4c4543" stroke-width="9.0" stroke-linecap="round" fill="none"/>
<path d="M1497.9,1049.0 L1494.7,1049.5" stroke="#4c4543" stroke-width="9.0" stroke-linecap="round" fill="none"/>
<path d="M1494.7,1049.5 L1492.0,1050.0" stroke="#4c4543" stroke-width="9.0" stroke-linecap="round" fill="none"/>
<path d="M1492.0,1050.0 L1489.6,1050.4" stroke="#4c4543" stroke-width="8.4" stroke-linecap="round" fill="none"/>
<path d="M1489.6,1050.4 L1487.6,1050.9" stroke="#4c4543" stroke-width="7.8" stroke-linecap="round" fill="none"/>
<path d="M1487.6,1050.9 L1485.8,1051.3" stroke="#4c4543" stroke-width="7.2" stroke-linecap="round" fill="none"/>
<path d="M1485.8,1051.3 L1484.2,1051.8" stroke="#4c4543" stroke-width="6.6" stroke-linecap="round" fill="none"/>
<path d="M1484.2,1051.8 L1482.7,1052.4" stroke="#4c4543" stroke-width="6.0" stroke-linecap="round" fill="none"/>
<path d="M1482.7,1052.4 L1481.4,1053.3" stroke="#4c4543" stroke-width="5.4" stroke-linecap="round" fill="none"/>
<path d="M1481.4,1053.3 L1480.3,1054.2" stroke="#4c4543" stroke-width="4.9" stroke-linecap="round" fill="none"/>
<path d="M1480.3,1054.2 L1479.5,1055.3" stroke="#4c4543" stroke-width="4.3" stroke-linecap="round" fill="none"/>
<path d="M1479.5,1055.3 L1478.7,1056.3" stroke="#4c4543" stroke-width="3.7" stroke-linecap="round" fill="none"/>
<path d="M1478.7,1056.3 L1478.2,1057.2" stroke="#4c4543" stroke-width="3.1" stroke-linecap="round" fill="none"/>
<path d="M1478.2,1057.2 L1477.7,1057.8" stroke="#4c4543" stroke-width="2.5" stroke-linecap="round" fill="none"/>
<path d="M1559.0,1038.5 L1556.5,1040.1" stroke="#4c4543" stroke-width="9.0" stroke-linecap="round" fill="none"/>
<path d="M1556.5,1040.1 L1553.2,1042.2" stroke="#4c4543" stroke-width="9.0" stroke-linecap="round" fill="none"/>
<path d="M1553.2,1042.2 L1549.2,1044.7" stroke="#4c4543" stroke-width="9.0" stroke-linecap="round" fill="none"/>
<path d="M1549.2,1044.7 L1544.9,1047.4" stroke="#4c4543" stroke-width="9.0" stroke-linecap="round" fill="none"/>
<path d="M1544.9,1047.4 L1540.5,1049.9" stroke="#4c4543" stroke-width="9.0" stroke-linecap="round" fill="none"/>
<path d="M1540.5,1049.9 L1536.2,1052.0" stroke="#4c4543" stroke-width="9.0" stroke-linecap="round" fill="none"/>
<path d="M1536.2,1052.0 L1531.8,1053.8" stroke="#4c4543" stroke-width="9.0" stroke-linecap="round" fill="none"/>
<path d="M1531.8,1053.8 L1527.3,1055.4" stroke="#4c4543" stroke-width="9.0" stroke-linecap="round" fill="none"/>
<path d="M1527.3,1055.4 L1522.6,1056.8" stroke="#4c4543" stroke-width="9.0" stroke-linecap="round" fill="none"/>
<path d="M1522.6,1056.8 L1517.9,1058.2" stroke="#4c4543" stroke-width="9.0" stroke-linecap="round" fill="none"/>
<path d="M1517.9,1058.2 L1513.4,1059.5" stroke="#4c4543" stroke-width="9.0" stroke-linecap="round" fill="none"/>
<path d="M1513.4,1059.5 L1509.2,1060.7" stroke="#4c4543" stroke-width="9.0" stroke-linecap="round" fill="none"/>
<path d="M1509.2,1060.7 L1505.3,1061.9" stroke="#4c4543" stroke-width="9.0" stroke-linecap="round" fill="none"/>
<path d="M1505.3,1061.9 L1501.5,1063.0" stroke="#4c4543" stroke-width="9.0" stroke-linecap="round" fill="none"/>
<path d="M1501.5,1063.0 L1497.8,1063.9" stroke="#4c4543" stroke-width="9.0" stroke-linecap="round" fill="none"/>
<path d="M1497.8,1063.9 L1494.4,1064.9" stroke="#4c4543" stroke-width="9.0" stroke-linecap="round" fill="none"/>
<path d="M1494.4,1064.9 L1491.3,1065.9" stroke="#4c4543" stroke-width="9.0" stroke-linecap="round" fill="none"/>
<path d="M1491.3,1065.9 L1488.5,1066.9" stroke="#4c4543" stroke-width="9.0" stroke-linecap="round" fill="none"/>
<path d="M1488.5,1066.9 L1486.2,1068.0" stroke="#4c4543" stroke-width="9.0" stroke-linecap="round" fill="none"/>
<path d="M1486.2,1068.0 L1484.2,1069.1" stroke="#4c4543" stroke-width="8.4" stroke-linecap="round" fill="none"/>
<path d="M1484.2,1069.1 L1482.5,1070.2" stroke="#4c4543" stroke-width="7.8" stroke-linecap="round" fill="none"/>
<path d="M1482.5,1070.2 L1481.1,1071.4" stroke="#4c4543" stroke-width="7.2" stroke-linecap="round" fill="none"/>
<path d="M1481.1,1071.4 L1479.8,1072.6" stroke="#4c4543" stroke-width="6.6" stroke-linecap="round" fill="none"/>
<path d="M1479.8,1072.6 L1478.5,1074.0" stroke="#4c4543" stroke-width="6.0" stroke-linecap="round" fill="none"/>
<path d="M1478.5,1074.0 L1477.4,1075.6" stroke="#4c4543" stroke-width="5.4" stroke-linecap="round" fill="none"/>
<path d="M1477.4,1075.6 L1476.5,1077.5" stroke="#4c4543" stroke-width="4.9" stroke-linecap="round" fill="none"/>
<path d="M1476.5,1077.5 L1475.8,1079.4" stroke="#4c4543" stroke-width="4.3" stroke-linecap="round" fill="none"/>
<path d="M1475.8,1079.4 L1475.1,1081.3" stroke="#4c4543" stroke-width="3.7" stroke-linecap="round" fill="none"/>
<path d="M1475.1,1081.3 L1474.6,1082.8" stroke="#4c4543" stroke-width="3.1" stroke-linecap="round" fill="none"/>
<path d="M1474.6,1082.8 L1474.2,1083.9" stroke="#4c4543" stroke-width="2.5" stroke-linecap="round" fill="none"/>
<path d="M1554.8,1045.8 L1553.2,1047.2" stroke="#4c4543" stroke-width="8.5" stroke-linecap="round" fill="none"/>
<path d="M1553.2,1047.2 L1551.1,1049.2" stroke="#4c4543" stroke-width="8.5" stroke-linecap="round" fill="none"/>
<path d="M1551.1,1049.2 L1548.5,1051.5" stroke="#4c4543" stroke-width="8.5" stroke-linecap="round" fill="none"/>
<path d="M1548.5,1051.5 L1545.7,1053.9" stroke="#4c4543" stroke-width="8.5" stroke-linecap="round" fill="none"/>
<path d="M1545.7,1053.9 L1542.9,1056.2" stroke="#4c4543" stroke-width="8.5" stroke-linecap="round" fill="none"/>
<path d="M1542.9,1056.2 L1540.3,1058.2" stroke="#4c4543" stroke-width="8.5" stroke-linecap="round" fill="none"/>
<path d="M1540.3,1058.2 L1537.8,1059.9" stroke="#4c4543" stroke-width="8.5" stroke-linecap="round" fill="none"/>
<path d="M1537.8,1059.9 L1535.3,1061.4" stroke="#4c4543" stroke-width="8.5" stroke-linecap="round" fill="none"/>
<path d="M1535.3,1061.4 L1532.7,1062.8" stroke="#4c4543" stroke-width="8.5" stroke-linecap="round" fill="none"/>
<path d="M1532.7,1062.8 L1530.2,1064.2" stroke="#4c4543" stroke-width="8.5" stroke-linecap="round" fill="none"/>
<path d="M1530.2,1064.2 L1527.9,1065.6" stroke="#4c4543" stroke-width="8.5" stroke-linecap="round" fill="none"/>
<path d="M1527.9,1065.6 L1525.8,1066.9" stroke="#4c4543" stroke-width="8.5" stroke-linecap="round" fill="none"/>
<path d="M1525.8,1066.9 L1523.9,1068.3" stroke="#4c4543" stroke-width="8.5" stroke-linecap="round" fill="none"/>
<path d="M1523.9,1068.3 L1522.2,1069.6" stroke="#4c4543" stroke-width="8.5" stroke-linecap="round" fill="none"/>
<path d="M1522.2,1069.6 L1520.7,1070.8" stroke="#4c4543" stroke-width="8.5" stroke-linecap="round" fill="none"/>
<path d="M1520.7,1070.8 L1519.2,1072.1" stroke="#4c4543" stroke-width="8.0" stroke-linecap="round" fill="none"/>
<path d="M1519.2,1072.1 L1517.9,1073.6" stroke="#4c4543" stroke-width="7.3" stroke-linecap="round" fill="none"/>
<path d="M1517.9,1073.6 L1516.7,1075.2" stroke="#4c4543" stroke-width="6.6" stroke-linecap="round" fill="none"/>
<path d="M1516.7,1075.2 L1515.5,1077.3" stroke="#4c4543" stroke-width="5.9" stroke-linecap="round" fill="none"/>
<path d="M1515.5,1077.3 L1514.5,1079.7" stroke="#4c4543" stroke-width="5.2" stroke-linecap="round" fill="none"/>
<path d="M1514.5,1079.7 L1513.5,1082.2" stroke="#4c4543" stroke-width="4.6" stroke-linecap="round" fill="none"/>
<path d="M1513.5,1082.2 L1512.7,1084.6" stroke="#4c4543" stroke-width="3.9" stroke-linecap="round" fill="none"/>
<path d="M1512.7,1084.6 L1512.0,1086.6" stroke="#4c4543" stroke-width="3.2" stroke-linecap="round" fill="none"/>
<path d="M1512.0,1086.6 L1511.5,1088.1" stroke="#4c4543" stroke-width="2.5" stroke-linecap="round" fill="none"/>
<path d="M1576.6,1032.3 L1578.5,1032.6" stroke="#4c4543" stroke-width="9.5" stroke-linecap="round" fill="none"/>
<path d="M1578.5,1032.6 L1581.3,1032.9" stroke="#4c4543" stroke-width="9.5" stroke-linecap="round" fill="none"/>
<path d="M1581.3,1032.9 L1584.5,1033.2" stroke="#4c4543" stroke-width="9.5" stroke-linecap="round" fill="none"/>
<path d="M1584.5,1033.2 L1587.9,1033.6" stroke="#4c4543" stroke-width="9.5" stroke-linecap="round" fill="none"/>
<path d="M1587.9,1033.6 L1591.2,1034.0" stroke="#4c4543" stroke-width="9.5" stroke-linecap="round" fill="none"/>
<path d="M1591.2,1034.0 L1594.2,1034.4" stroke="#4c4543" stroke-width="9.5" stroke-linecap="round" fill="none"/>
<path d="M1594.2,1034.4 L1596.8,1034.8" stroke="#4c4543" stroke-width="9.5" stroke-linecap="round" fill="none"/>
<path d="M1596.8,1034.8 L1599.4,1035.1" stroke="#4c4543" stroke-width="9.5" stroke-linecap="round" fill="none"/>
<path d="M1599.4,1035.1 L1601.9,1035.5" stroke="#4c4543" stroke-width="9.5" stroke-linecap="round" fill="none"/>
<path d="M1601.9,1035.5 L1604.3,1035.9" stroke="#4c4543" stroke-width="9.5" stroke-linecap="round" fill="none"/>
<path d="M1604.3,1035.9 L1606.6,1036.4" stroke="#4c4543" stroke-width="9.5" stroke-linecap="round" fill="none"/>
<path d="M1606.6,1036.4 L1608.7,1036.9" stroke="#4c4543" stroke-width="9.5" stroke-linecap="round" fill="none"/>
<path d="M1608.7,1036.9 L1610.7,1037.4" stroke="#4c4543" stroke-width="9.5" stroke-linecap="round" fill="none"/>
<path d="M1610.7,1037.4 L1612.7,1038.0" stroke="#4c4543" stroke-width="9.5" stroke-linecap="round" fill="none"/>
<path d="M1612.7,1038.0 L1614.5,1038.6" stroke="#4c4543" stroke-width="9.5" stroke-linecap="round" fill="none"/>
<path d="M1614.5,1038.6 L1616.2,1039.2" stroke="#4c4543" stroke-width="8.9" stroke-linecap="round" fill="none"/>
<path d="M1616.2,1039.2 L1617.7,1040.1" stroke="#4c4543" stroke-width="8.1" stroke-linecap="round" fill="none"/>
<path d="M1617.7,1040.1 L1619.1,1041.0" stroke="#4c4543" stroke-width="7.3" stroke-linecap="round" fill="none"/>
<path d="M1619.1,1041.0 L1620.3,1042.3" stroke="#4c4543" stroke-width="6.5" stroke-linecap="round" fill="none"/>
<path d="M1620.3,1042.3 L1621.3,1044.0" stroke="#4c4543" stroke-width="5.7" stroke-linecap="round" fill="none"/>
<path d="M1621.3,1044.0 L1622.2,1045.8" stroke="#4c4543" stroke-width="4.9" stroke-linecap="round" fill="none"/>
<path d="M1622.2,1045.8 L1623.0,1047.5" stroke="#4c4543" stroke-width="4.1" stroke-linecap="round" fill="none"/>
<path d="M1623.0,1047.5 L1623.6,1048.9" stroke="#4c4543" stroke-width="3.3" stroke-linecap="round" fill="none"/>
<path d="M1623.6,1048.9 L1624.0,1049.9" stroke="#4c4543" stroke-width="2.5" stroke-linecap="round" fill="none"/>
</g>
<path d="M1619,944 L1582,1006" stroke="#bdb7b2" stroke-width="1.6" fill="none" opacity="0.8"/>
<path d="M1540,950 L1503,993" stroke="#7a6f6b" stroke-width="1.6" fill="none" opacity="0.7"/>
<path d="M1335.5,513.1C1335.7,507.1 1336.4,507.9 1339.4,504.0C1342.4,500.1 1348.2,493.5 1353.6,489.8C1359.0,486.1 1364.9,483.9 1371.8,482.0C1378.7,480.1 1387.3,478.8 1395.1,478.1C1402.9,477.5 1409.8,476.8 1418.4,478.1C1427.0,479.4 1437.8,482.4 1446.9,485.9C1456.0,489.4 1464.6,493.9 1472.8,498.9C1481.0,503.9 1489.2,509.7 1496.1,515.7C1503.0,521.7 1509.5,528.0 1514.2,535.1C1519.0,542.2 1522.2,550.6 1524.6,558.4C1527.0,566.2 1525.5,574.0 1528.5,581.8C1531.5,589.6 1537.5,597.9 1542.7,605.1C1548.0,612.3 1554.8,619.6 1560.0,625.2C1565.2,630.8 1567.3,632.8 1573.8,638.8C1580.3,644.8 1592.4,655.5 1598.9,661.5C1605.4,667.5 1606.2,668.5 1612.7,675.0C1619.2,681.5 1628.4,690.0 1637.7,700.3C1647.0,710.6 1657.6,723.2 1668.8,736.6C1680.0,750.0 1693.0,765.5 1705.1,780.6C1717.2,795.7 1729.6,811.2 1741.3,827.3C1753.0,843.4 1764.2,863.1 1775.0,877.0C1785.8,890.9 1798.3,902.5 1806.1,910.7C1813.9,918.9 1812.0,916.8 1821.7,926.2C1831.4,935.6 1852.1,955.4 1864.4,967.1C1876.7,978.8 1885.1,987.0 1895.5,996.6C1905.9,1006.2 1917.8,1017.2 1926.6,1024.6C1935.3,1032.0 1945.4,1037.3 1948.0,1041.0C1950.6,1044.7 1944.2,1045.1 1942.0,1047.0C1939.8,1048.9 1940.2,1053.2 1935.0,1052.5C1929.8,1051.8 1920.2,1047.0 1911.0,1042.5C1901.8,1038.0 1890.3,1032.0 1879.9,1025.5C1869.5,1019.0 1859.2,1011.1 1848.8,1003.5C1838.4,995.9 1828.1,988.3 1817.7,980.0C1807.3,971.7 1799.3,961.2 1786.6,953.5C1773.9,945.8 1754.9,939.0 1741.3,934.0C1727.7,929.0 1715.2,925.7 1705.0,923.6C1694.8,921.5 1690.9,920.8 1680.0,921.5C1669.1,922.2 1651.7,925.3 1639.8,927.7C1627.9,930.1 1619.1,933.2 1608.7,936.0C1598.3,938.8 1588.0,943.2 1577.6,944.2C1567.2,945.2 1556.9,943.9 1546.5,942.2C1536.1,940.5 1525.8,937.4 1515.4,933.9C1505.1,930.4 1494.0,927.1 1484.4,921.5C1474.8,915.9 1467.6,907.6 1458.0,900.5C1448.4,893.4 1436.9,886.7 1427.0,879.0C1417.1,871.3 1407.7,863.9 1398.5,854.5C1389.3,845.1 1379.2,832.6 1372.0,822.5C1364.8,812.4 1360.3,803.6 1355.2,794.0C1350.1,784.4 1345.2,775.2 1341.5,765.0C1337.8,754.8 1334.6,745.2 1332.8,733.0C1331.0,720.8 1330.9,704.5 1330.5,691.8C1330.1,679.1 1331.0,667.6 1330.5,657.0C1330.0,646.4 1329.5,637.9 1327.7,628.4C1326.0,618.9 1321.7,608.2 1320.0,600.0C1318.3,591.8 1315.7,585.7 1317.4,579.0C1319.1,572.3 1326.6,566.5 1330.0,560.0C1333.4,553.5 1337.1,547.8 1338.0,540.0C1338.9,532.2 1335.3,519.1 1335.5,513.1Z" fill="url(#gy)"/>
<g clip-path="url(#bsil)">
<path d="M1430,890 C1500,950 1600,955 1700,925 L1700,960 L1420,960Z" fill="#e4dca0" opacity="0.55" filter="url(#soft3)"/>
<clipPath id="ctl"><path d="M1716.0,890.0C1722.3,891.0 1742.0,899.0 1760.0,905.0C1778.0,911.0 1806.6,916.0 1824.0,926.0C1841.4,936.0 1852.5,953.6 1864.4,965.0C1876.3,976.4 1885.1,984.9 1895.5,994.5C1905.9,1004.1 1917.2,1014.9 1926.6,1022.5C1936.0,1030.1 1948.8,1035.4 1952.0,1040.0C1955.2,1044.6 1948.5,1047.2 1946.0,1050.0C1943.5,1052.8 1942.8,1057.7 1937.0,1057.0C1931.2,1056.3 1920.5,1050.7 1911.0,1046.0C1901.5,1041.3 1890.3,1035.5 1879.9,1029.0C1869.5,1022.5 1859.2,1014.6 1848.8,1007.0C1838.4,999.4 1828.1,991.8 1817.7,983.5C1807.3,975.2 1794.9,964.4 1786.6,957.0C1778.3,949.6 1775.6,946.0 1768.0,939.0C1760.4,932.0 1748.7,921.7 1741.0,915.0C1733.3,908.3 1726.2,903.2 1722.0,899.0C1717.8,894.8 1709.7,889.0 1716.0,890.0Z"/></clipPath>
<path d="M1716.0,890.0C1722.3,891.0 1742.0,899.0 1760.0,905.0C1778.0,911.0 1806.6,916.0 1824.0,926.0C1841.4,936.0 1852.5,953.6 1864.4,965.0C1876.3,976.4 1885.1,984.9 1895.5,994.5C1905.9,1004.1 1917.2,1014.9 1926.6,1022.5C1936.0,1030.1 1948.8,1035.4 1952.0,1040.0C1955.2,1044.6 1948.5,1047.2 1946.0,1050.0C1943.5,1052.8 1942.8,1057.7 1937.0,1057.0C1931.2,1056.3 1920.5,1050.7 1911.0,1046.0C1901.5,1041.3 1890.3,1035.5 1879.9,1029.0C1869.5,1022.5 1859.2,1014.6 1848.8,1007.0C1838.4,999.4 1828.1,991.8 1817.7,983.5C1807.3,975.2 1794.9,964.4 1786.6,957.0C1778.3,949.6 1775.6,946.0 1768.0,939.0C1760.4,932.0 1748.7,921.7 1741.0,915.0C1733.3,908.3 1726.2,903.2 1722.0,899.0C1717.8,894.8 1709.7,889.0 1716.0,890.0Z" fill="#5a7598"/>
<g clip-path="url(#ctl)">
<path d="M1740.0,922.0 L1930.0,1056.0" stroke="#36445a" stroke-width="2.4" opacity="0.8"/>
<path d="M1747.8,921.8 L1932.5,1054.0" stroke="#8da6c6" stroke-width="2.0" opacity="0.8"/>
<path d="M1755.5,921.5 L1935.0,1052.0" stroke="#36445a" stroke-width="2.4" opacity="0.8"/>
<path d="M1763.2,921.2 L1937.5,1050.0" stroke="#8da6c6" stroke-width="2.0" opacity="0.8"/>
<path d="M1771.0,921.0 L1940.0,1048.0" stroke="#36445a" stroke-width="2.4" opacity="0.8"/>
<path d="M1778.8,920.8 L1942.5,1046.0" stroke="#8da6c6" stroke-width="2.0" opacity="0.8"/>
<path d="M1786.5,920.5 L1945.0,1044.0" stroke="#36445a" stroke-width="2.4" opacity="0.8"/>
<path d="M1794.2,920.2 L1947.5,1042.0" stroke="#8da6c6" stroke-width="2.0" opacity="0.8"/>
<path d="M1802.0,920.0 L1950.0,1040.0" stroke="#36445a" stroke-width="2.4" opacity="0.8"/>
<path d="M1786.6,954 C1817,980.5 1879,1026 1935,1053" stroke="#5b5a50" stroke-width="3" fill="none" opacity="0.7"/>
</g>
<path d="M1692,908 L1728,902 L1765,934 L1792,958 L1745,943 L1700,930Z" fill="#d6d5c2" filter="url(#soft2)"/>
<path d="M1405.0,660.0C1406.8,655.7 1422.3,657.2 1431.0,654.0C1439.7,650.8 1448.3,645.7 1457.0,641.0C1465.7,636.3 1474.3,632.0 1483.0,626.0C1491.7,620.0 1502.0,612.0 1509.0,605.0C1516.0,598.0 1519.0,588.2 1525.0,584.0C1531.0,579.8 1532.5,570.7 1545.0,580.0C1557.5,589.3 1580.8,620.0 1600.0,640.0C1619.2,660.0 1640.0,678.3 1660.0,700.0C1680.0,721.7 1713.3,755.0 1720.0,770.0C1726.7,785.0 1708.0,793.3 1700.0,790.0C1692.0,786.7 1680.3,758.0 1672.0,750.0C1663.7,742.0 1660.3,743.7 1650.0,742.0C1639.7,740.3 1622.5,741.7 1610.0,740.0C1597.5,738.3 1587.5,736.2 1575.0,732.0C1562.5,727.8 1548.3,720.7 1535.0,715.0C1521.7,709.3 1507.5,702.8 1495.0,698.0C1482.5,693.2 1469.2,687.3 1460.0,686.0C1450.8,684.7 1446.7,691.0 1440.0,690.0C1433.3,689.0 1425.8,685.0 1420.0,680.0C1414.2,675.0 1403.2,664.3 1405.0,660.0Z" fill="url(#gol)" filter="url(#soft15)"/>
<path d="M1400,662 C1420,668 1436,680 1446,696" stroke="#c7b640" stroke-width="14" fill="none" filter="url(#soft2)" opacity="0.8"/>
<path d="M1451.0,689.0C1454.0,685.8 1458.7,685.3 1466.0,686.0C1473.3,686.7 1483.5,690.0 1495.0,693.0C1506.5,696.0 1521.3,700.2 1535.0,704.0C1548.7,707.8 1564.5,712.2 1577.0,716.0C1589.5,719.8 1598.7,723.3 1610.0,727.0C1621.3,730.7 1634.7,734.8 1645.0,738.0C1655.3,741.2 1664.5,741.5 1672.0,746.0C1679.5,750.5 1692.0,762.7 1690.0,765.0C1688.0,767.3 1668.3,762.2 1660.0,760.0C1651.7,757.8 1648.2,751.5 1640.0,752.0C1631.8,752.5 1622.3,759.3 1611.0,763.0C1599.7,766.7 1585.0,773.0 1572.0,774.0C1559.0,775.0 1544.7,771.5 1533.0,769.0C1521.3,766.5 1512.2,763.5 1502.0,759.0C1491.8,754.5 1479.5,748.0 1472.0,742.0C1464.5,736.0 1461.0,729.2 1457.0,723.0C1453.0,716.8 1449.0,710.7 1448.0,705.0C1447.0,699.3 1448.0,692.2 1451.0,689.0Z" fill="#617b98" filter="url(#soft2)"/>
<path d="M1470,705 C1510,720 1560,742 1620,748" stroke="#3f5874" stroke-width="10" fill="none" opacity="0.55" filter="url(#soft2)"/>
<path d="M1455,700 C1500,708 1560,730 1640,744" stroke="#7d97b3" stroke-width="5" fill="none" opacity="0.5" filter="url(#soft2)"/>
<clipPath id="cfl"><path d="M1455.0,741.0C1456.3,738.3 1462.2,739.3 1470.0,742.0C1477.8,744.7 1491.5,752.7 1502.0,757.0C1512.5,761.3 1521.3,765.3 1533.0,768.0C1544.7,770.7 1559.0,774.0 1572.0,773.0C1585.0,772.0 1598.8,765.8 1611.0,762.0C1623.2,758.2 1634.8,752.7 1645.0,750.0C1655.2,747.3 1662.0,740.8 1672.0,746.0C1682.0,751.2 1693.5,767.5 1705.0,781.0C1716.5,794.5 1729.3,811.0 1741.0,827.0C1752.7,843.0 1764.2,863.0 1775.0,877.0C1785.8,891.0 1797.8,902.5 1806.0,911.0C1814.2,919.5 1821.2,924.5 1824.0,928.0C1826.8,931.5 1830.7,934.1 1823.0,932.0C1815.3,929.9 1794.2,921.6 1777.6,915.5C1761.0,909.4 1741.3,903.3 1723.2,895.5C1705.1,887.7 1683.2,874.9 1668.8,868.5C1654.4,862.1 1646.1,861.2 1637.0,857.0C1627.9,852.8 1623.1,847.2 1614.4,843.0C1605.7,838.8 1594.1,835.6 1585.0,832.0C1575.9,828.4 1568.7,825.7 1560.0,821.5C1551.3,817.3 1546.2,814.7 1533.0,807.0C1519.8,799.3 1492.8,783.7 1481.0,775.5C1469.2,767.3 1466.3,763.8 1462.0,758.0C1457.7,752.2 1453.7,743.7 1455.0,741.0Z"/></clipPath>
<path d="M1455.0,741.0C1456.3,738.3 1462.2,739.3 1470.0,742.0C1477.8,744.7 1491.5,752.7 1502.0,757.0C1512.5,761.3 1521.3,765.3 1533.0,768.0C1544.7,770.7 1559.0,774.0 1572.0,773.0C1585.0,772.0 1598.8,765.8 1611.0,762.0C1623.2,758.2 1634.8,752.7 1645.0,750.0C1655.2,747.3 1662.0,740.8 1672.0,746.0C1682.0,751.2 1693.5,767.5 1705.0,781.0C1716.5,794.5 1729.3,811.0 1741.0,827.0C1752.7,843.0 1764.2,863.0 1775.0,877.0C1785.8,891.0 1797.8,902.5 1806.0,911.0C1814.2,919.5 1821.2,924.5 1824.0,928.0C1826.8,931.5 1830.7,934.1 1823.0,932.0C1815.3,929.9 1794.2,921.6 1777.6,915.5C1761.0,909.4 1741.3,903.3 1723.2,895.5C1705.1,887.7 1683.2,874.9 1668.8,868.5C1654.4,862.1 1646.1,861.2 1637.0,857.0C1627.9,852.8 1623.1,847.2 1614.4,843.0C1605.7,838.8 1594.1,835.6 1585.0,832.0C1575.9,828.4 1568.7,825.7 1560.0,821.5C1551.3,817.3 1546.2,814.7 1533.0,807.0C1519.8,799.3 1492.8,783.7 1481.0,775.5C1469.2,767.3 1466.3,763.8 1462.0,758.0C1457.7,752.2 1453.7,743.7 1455.0,741.0Z" fill="#7598c4"/>
<g clip-path="url(#cfl)">
<path d="M1640,748 L1672,742 L1745,826 L1830,930 L1800,912 L1752,853 C1720,820 1690,795 1646,760Z" fill="#475870"/>
<path d="M1577.0,832.0 Q1711.0,876.1 1828.0,934.0" stroke="#2d3750" stroke-width="2.4" fill="none" opacity="0.88"/>
<path d="M1577.1,826.9 Q1710.1,873.1 1826.2,932.1" stroke="#2d3750" stroke-width="1.9" fill="none" opacity="0.88"/>
<path d="M1577.3,821.8 Q1708.8,869.6 1823.6,929.3" stroke="#2d3750" stroke-width="1.9" fill="none" opacity="0.88"/>
<path d="M1577.7,816.7 Q1707.3,865.8 1820.6,926.0" stroke="#2d3750" stroke-width="2.4" fill="none" opacity="0.88"/>
<path d="M1578.3,811.6 Q1705.7,861.8 1817.2,922.4" stroke="#2d3750" stroke-width="1.9" fill="none" opacity="0.88"/>
<path d="M1579.1,806.5 Q1704.0,857.7 1813.5,918.5" stroke="#2d3750" stroke-width="1.9" fill="none" opacity="0.88"/>
<path d="M1580.0,801.5 Q1702.2,853.5 1809.5,914.5" stroke="#2d3750" stroke-width="2.4" fill="none" opacity="0.88"/>
<path d="M1581.0,796.4 Q1700.4,849.3 1805.3,910.3" stroke="#2d3750" stroke-width="1.9" fill="none" opacity="0.88"/>
<path d="M1582.3,791.3 Q1698.5,844.9 1800.9,905.9" stroke="#2d3750" stroke-width="1.9" fill="none" opacity="0.88"/>
<path d="M1583.7,786.2 Q1696.7,840.3 1796.5,901.3" stroke="#2d3750" stroke-width="2.4" fill="none" opacity="0.88"/>
<path d="M1585.3,781.1 Q1694.9,835.7 1791.9,896.4" stroke="#2d3750" stroke-width="1.9" fill="none" opacity="0.88"/>
<path d="M1587.0,776.0 Q1693.1,831.0 1787.1,891.4" stroke="#2d3750" stroke-width="1.9" fill="none" opacity="0.88"/>
<path d="M1589.5,774.5 Q1691.5,827.8 1782.3,886.3" stroke="#2d3750" stroke-width="2.4" fill="none" opacity="0.88"/>
<path d="M1601.0,772.7 Q1694.2,824.2 1777.8,880.6" stroke="#2d3750" stroke-width="1.9" fill="none" opacity="0.88"/>
<path d="M1612.5,770.3 Q1696.9,820.1 1773.3,874.7" stroke="#2d3750" stroke-width="1.9" fill="none" opacity="0.88"/>
<path d="M1624.0,767.0 Q1699.6,815.7 1768.6,868.7" stroke="#2d3750" stroke-width="2.4" fill="none" opacity="0.88"/>
<path d="M1635.5,762.8 Q1702.2,810.7 1764.0,862.6" stroke="#2d3750" stroke-width="1.9" fill="none" opacity="0.88"/>
<path d="M1647.0,757.7 Q1704.8,805.2 1759.4,856.2" stroke="#2d3750" stroke-width="1.9" fill="none" opacity="0.88"/>
<path d="M1658.5,752.0 Q1707.4,799.4 1754.7,849.6" stroke="#2d3750" stroke-width="2.4" fill="none" opacity="0.88"/>
<path d="M1670.0,746.0 Q1710.0,793.4 1750.0,843.0" stroke="#2d3750" stroke-width="1.9" fill="none" opacity="0.88"/>
<path d="M1762,872 L1826,932 L1796,924 L1760,898Z" fill="#7a5546" opacity="0.6" filter="url(#soft2)"/>
<path d="M1481,775.5 C1533,807 1585,832 1637,857 C1668,868.5 1723,895.5 1823,932" stroke="#3b3f46" stroke-width="5" fill="none" opacity="0.75"/>
</g>
<path d="M1453.0,741.0C1454.3,738.3 1461.8,739.3 1470.0,742.0C1478.2,744.7 1491.5,752.7 1502.0,757.0C1512.5,761.3 1521.3,765.3 1533.0,768.0C1544.7,770.7 1564.5,769.3 1572.0,773.0C1579.5,776.7 1577.2,782.5 1578.0,790.0C1578.8,797.5 1575.8,810.8 1577.0,818.0C1578.2,825.2 1592.3,834.8 1585.0,833.0C1577.7,831.2 1550.3,816.5 1533.0,807.0C1515.7,797.5 1492.8,784.2 1481.0,776.0C1469.2,767.8 1466.7,763.8 1462.0,758.0C1457.3,752.2 1451.7,743.7 1453.0,741.0Z" fill="#474b52"/>
<path d="M1672,746 C1705,781 1741,827 1775,877 C1790,895 1806,911 1823,928" stroke="#38404e" stroke-width="6" fill="none" opacity="0.9"/>
<path d="M1466.0,750.0 Q1522.0,772.0 1578.0,782.0" stroke="#26282e" stroke-width="1.5" fill="none" opacity="0.75"/>
<path d="M1470.0,751.5 Q1524.0,774.5 1578.0,784.5" stroke="#6e747c" stroke-width="1.1" fill="none" opacity="0.6"/>
<path d="M1467.7,753.3 Q1522.8,777.3 1578.0,789.3" stroke="#26282e" stroke-width="1.5" fill="none" opacity="0.75"/>
<path d="M1471.7,754.8 Q1524.8,779.8 1578.0,791.8" stroke="#6e747c" stroke-width="1.1" fill="none" opacity="0.6"/>
<path d="M1469.3,756.7 Q1523.7,782.7 1578.0,796.7" stroke="#26282e" stroke-width="1.5" fill="none" opacity="0.75"/>
<path d="M1473.3,758.2 Q1525.7,785.2 1578.0,799.2" stroke="#6e747c" stroke-width="1.1" fill="none" opacity="0.6"/>
<path d="M1471.0,760.0 Q1524.5,788.0 1578.0,804.0" stroke="#26282e" stroke-width="1.5" fill="none" opacity="0.75"/>
<path d="M1475.0,761.5 Q1526.5,790.5 1578.0,806.5" stroke="#6e747c" stroke-width="1.1" fill="none" opacity="0.6"/>
<path d="M1472.7,763.3 Q1525.3,793.3 1578.0,811.3" stroke="#26282e" stroke-width="1.5" fill="none" opacity="0.75"/>
<path d="M1476.7,764.8 Q1527.3,795.8 1578.0,813.8" stroke="#6e747c" stroke-width="1.1" fill="none" opacity="0.6"/>
<path d="M1474.3,766.7 Q1526.2,798.7 1578.0,818.7" stroke="#26282e" stroke-width="1.5" fill="none" opacity="0.75"/>
<path d="M1478.3,768.2 Q1528.2,801.2 1578.0,821.2" stroke="#6e747c" stroke-width="1.1" fill="none" opacity="0.6"/>
<path d="M1476.0,770.0 Q1527.0,804.0 1578.0,826.0" stroke="#26282e" stroke-width="1.5" fill="none" opacity="0.75"/>
<path d="M1480.0,771.5 Q1529.0,806.5 1578.0,828.5" stroke="#6e747c" stroke-width="1.1" fill="none" opacity="0.6"/>
<path d="M1500,755.5 C1520,765 1545,772.5 1572,772 C1600,770 1620,758 1640,751" stroke="#e6e2cf" stroke-width="8.5" fill="none" stroke-linecap="round"/>
<path d="M1643,761 C1690,793 1720,820 1750,852" stroke="#ece6c8" stroke-width="4.2" fill="none" stroke-linecap="round"/>
<path d="M1640,770 C1680,798 1708,822 1735,850" stroke="#c9d2d8" stroke-width="1.6" fill="none" stroke-linecap="round" opacity="0.8"/>
<path d="M1335.5,513.1C1337.1,506.3 1336.4,507.9 1339.4,504.0C1342.4,500.1 1348.2,493.5 1353.6,489.8C1359.0,486.1 1364.9,483.9 1371.8,482.0C1378.7,480.1 1387.3,478.8 1395.1,478.1C1402.9,477.5 1409.8,476.8 1418.4,478.1C1427.0,479.4 1437.8,482.4 1446.9,485.9C1456.0,489.4 1464.6,493.9 1472.8,498.9C1481.0,503.9 1489.2,509.7 1496.1,515.7C1503.0,521.7 1509.5,528.0 1514.2,535.1C1519.0,542.2 1522.0,550.4 1524.6,558.4C1527.2,566.4 1530.4,577.4 1530.0,583.0C1529.6,588.6 1525.5,588.2 1522.0,592.0C1518.5,595.8 1515.5,600.2 1509.0,606.0C1502.5,611.8 1491.7,620.5 1483.0,626.5C1474.3,632.5 1465.7,637.2 1457.0,642.0C1448.3,646.8 1439.7,651.9 1431.0,655.0C1422.3,658.1 1414.5,657.5 1405.0,660.5C1395.5,663.5 1382.8,668.1 1374.0,673.0C1365.2,677.9 1356.7,683.8 1352.0,690.0C1347.3,696.2 1347.5,702.5 1346.0,710.0C1344.5,717.5 1342.7,726.3 1343.0,735.0C1343.3,743.7 1345.8,753.7 1348.0,762.0C1350.2,770.3 1355.3,779.5 1356.0,785.0C1356.7,790.5 1356.3,799.2 1352.0,795.0C1347.7,790.8 1335.7,775.8 1330.0,760.0C1324.3,744.2 1320.0,720.0 1318.0,700.0C1316.0,680.0 1319.3,656.7 1318.0,640.0C1316.7,623.3 1311.3,611.7 1310.0,600.0C1308.7,588.3 1306.7,579.2 1310.0,570.0C1313.3,560.8 1325.8,554.5 1330.0,545.0C1334.2,535.5 1333.9,519.9 1335.5,513.1Z" fill="url(#ghd)"/>
<path d="M1375,500 C1410,488 1460,498 1495,530" stroke="#58748f" stroke-width="16" fill="none" opacity="0.4" filter="url(#soft3)"/>
<path d="M1330,600 C1345,640 1400,650 1470,625" stroke="#343c48" stroke-width="22" fill="none" opacity="0.5" filter="url(#soft3)"/>
<path d="M1353.6,549.4C1356.9,546.4 1364.9,542.9 1371.8,542.9C1378.7,542.9 1386.0,548.8 1395.1,549.4C1404.2,550.0 1415.8,546.1 1426.2,546.8C1436.6,547.4 1448.7,550.1 1457.3,553.3C1465.9,556.5 1473.2,561.5 1478.0,566.2C1482.8,571.0 1485.8,576.2 1485.8,581.8C1485.8,587.4 1482.8,594.3 1478.0,599.9C1473.2,605.5 1465.5,611.7 1457.3,615.4C1449.1,619.1 1437.4,621.9 1428.8,621.9C1420.2,621.9 1412.8,619.1 1405.4,615.4C1398.1,611.7 1391.6,606.4 1384.7,599.9C1377.8,593.4 1369.5,583.1 1364.0,576.6C1358.5,570.1 1353.7,565.5 1352.0,561.0C1350.3,556.5 1350.3,552.4 1353.6,549.4Z" fill="#ede8d2"/>
<path d="M1420,560 C1450,565 1470,580 1470,598" stroke="#e6dcb4" stroke-width="12" fill="none" opacity="0.6" filter="url(#soft2)"/>
<circle cx="1397" cy="533.9" r="12.6" fill="#1f1d1d"/>
<circle cx="1397" cy="533.9" r="8.6" fill="#2b2624" stroke="#776d67" stroke-width="1.7"/>
<ellipse cx="1397.3" cy="531.6" rx="2.2" ry="2.9" fill="#f4f2ea" transform="rotate(-30 1397.3 531.6)"/>
<path d="M1332.8,733.0C1334.2,738.3 1338.3,755.8 1341.5,765.0C1344.7,774.2 1350.2,784.2 1352.0,788.0" stroke="#6c7074" stroke-width="17" stroke-linecap="round" fill="none" opacity="0.85" filter="url(#soft15)"/>
<path d="M1350.0,784.0C1350.9,785.7 1351.5,787.6 1355.2,794.0C1358.9,800.4 1367.2,815.2 1372.0,822.5C1376.8,829.8 1382.0,835.4 1384.0,838.0" stroke="#737572" stroke-width="13" stroke-linecap="round" fill="none" opacity="0.85" filter="url(#soft15)"/>
<path d="M1380.0,833.0C1383.1,836.6 1390.7,846.8 1398.5,854.5C1406.3,862.2 1417.1,871.3 1427.0,879.0C1436.9,886.7 1448.4,893.4 1458.0,900.5C1467.6,907.6 1480.0,918.0 1484.4,921.5" stroke="#7d7c69" stroke-width="10" fill="none" opacity="0.8" filter="url(#soft15)"/>
<path d="M1480.0,919.0C1485.9,921.5 1504.3,930.0 1515.4,933.9C1526.5,937.8 1537.4,940.4 1546.5,942.2C1555.6,944.1 1566.1,944.5 1570.0,945.0" stroke="#8f8c6c" stroke-width="6" fill="none" opacity="0.6" filter="url(#soft15)"/>
<g transform="rotate(38 1600 760)"><rect x="1000" y="200" width="1200" height="1200" filter="url(#texw)" opacity="0.30"/><rect x="1000" y="200" width="1200" height="1200" filter="url(#texd)" opacity="0.13"/></g>
</g>
<path d="M1336.0,516.0C1335.9,515.5 1334.9,515.1 1335.5,513.1C1336.1,511.1 1336.4,507.9 1339.4,504.0C1342.4,500.1 1348.2,493.5 1353.6,489.8C1359.0,486.1 1364.9,483.9 1371.8,482.0C1378.7,480.1 1387.3,478.8 1395.1,478.1C1402.9,477.5 1409.8,476.8 1418.4,478.1C1427.0,479.4 1437.8,482.4 1446.9,485.9C1456.0,489.4 1464.6,493.9 1472.8,498.9C1481.0,503.9 1489.2,509.7 1496.1,515.7C1503.0,521.7 1509.5,528.0 1514.2,535.1C1519.0,542.2 1522.2,550.6 1524.6,558.4C1527.0,566.2 1527.8,577.9 1528.5,581.8" stroke="#3a4452" stroke-width="2" fill="none"/>
<path d="M1318.0,579.0C1318.3,582.5 1318.4,591.8 1320.0,600.0C1321.6,608.2 1326.0,618.9 1327.7,628.4C1329.5,637.9 1330.0,646.4 1330.5,657.0C1331.0,667.6 1330.1,679.1 1330.5,691.8C1330.9,704.5 1331.0,720.8 1332.8,733.0C1334.6,745.2 1337.8,754.8 1341.5,765.0C1345.2,775.2 1352.9,789.2 1355.2,794.0" stroke="#3a4452" stroke-width="2" fill="none"/>
<path d="M1528.5,581.8C1530.9,585.7 1537.5,597.9 1542.7,605.1C1548.0,612.3 1554.8,619.6 1560.0,625.2C1565.2,630.8 1567.3,632.8 1573.8,638.8C1580.3,644.8 1592.4,655.5 1598.9,661.5C1605.4,667.5 1606.2,668.5 1612.7,675.0C1619.2,681.5 1628.4,690.0 1637.7,700.3C1647.0,710.6 1663.6,730.5 1668.8,736.6" stroke="#9c9a42" stroke-width="2" fill="none"/>
<path d="M1668.8,736.6C1674.8,743.9 1693.0,765.5 1705.1,780.6C1717.2,795.7 1729.6,811.2 1741.3,827.3C1753.0,843.4 1764.2,863.1 1775.0,877.0C1785.8,890.9 1798.3,902.5 1806.1,910.7C1813.9,918.9 1810.9,915.4 1821.7,926.2C1832.5,937.0 1854.1,959.4 1870.9,975.4C1887.7,991.4 1909.9,1011.1 1922.7,1022.1C1935.5,1033.1 1943.6,1038.3 1947.8,1041.5" stroke="#3d475a" stroke-width="2" fill="none"/>
<path d="M1270.5,498.1C1271.4,496.5 1284.4,499.6 1291.3,500.7C1298.2,501.8 1306.0,503.3 1312.0,504.9C1318.0,506.5 1323.5,508.2 1327.5,510.1C1331.5,512.0 1334.2,513.2 1336.0,516.0C1337.8,518.8 1337.2,522.9 1338.5,526.6C1339.8,530.3 1341.8,534.5 1343.5,538.0C1345.2,541.5 1347.9,544.3 1348.5,547.5C1349.1,550.7 1348.3,554.3 1347.0,557.0C1345.7,559.7 1343.0,563.9 1340.5,563.5C1338.0,563.1 1333.9,557.5 1331.7,554.6C1329.5,551.7 1329.9,549.8 1327.5,546.3C1325.1,542.8 1321.5,538.0 1317.2,533.9C1312.9,529.8 1306.8,525.5 1301.6,521.5C1296.4,517.5 1291.3,514.0 1286.1,510.1C1280.9,506.2 1269.6,499.7 1270.5,498.1Z" fill="#57514e"/>
<path d="M1284,502.2 C1300,505 1316,510 1327,518 C1333,523 1337,529 1340,536" stroke="#e0dfd6" stroke-width="4.6" fill="none" stroke-linecap="round"/>
<path d="M1290,507 C1304,512 1318,520 1326,529 C1331,535 1335,542 1338,549" stroke="#9a958e" stroke-width="3.4" fill="none" stroke-linecap="round" opacity="0.85"/>
<path d="M1281,503.5 C1298,507.5 1314,513.5 1324,521.5 C1331,527 1335,534 1338.5,542" stroke="#2e2a29" stroke-width="1.3" fill="none"/>
<path d="M1263.3,572.2C1265.0,570.6 1278.8,567.9 1286.1,566.0C1293.3,564.1 1299.9,562.4 1306.8,560.8C1313.7,559.2 1321.8,557.2 1327.5,556.2C1333.2,555.2 1337.4,552.9 1341.0,554.5C1344.6,556.1 1349.8,563.0 1349.0,566.0C1348.2,569.0 1341.2,570.3 1336.0,572.5C1330.8,574.7 1324.6,578.2 1318.0,579.2C1311.4,580.2 1303.5,579.2 1296.5,578.6C1289.5,578.0 1281.2,576.6 1275.7,575.5C1270.2,574.4 1261.6,573.8 1263.3,572.2Z" fill="#5a5451"/>
<path d="M1292,567.3 C1308,563.5 1325,559.5 1341,558.6 L1343,565 C1328,568.5 1310,571 1296,571.2Z" fill="#d8d6cd"/>
</g>
</svg>
</body></html>
